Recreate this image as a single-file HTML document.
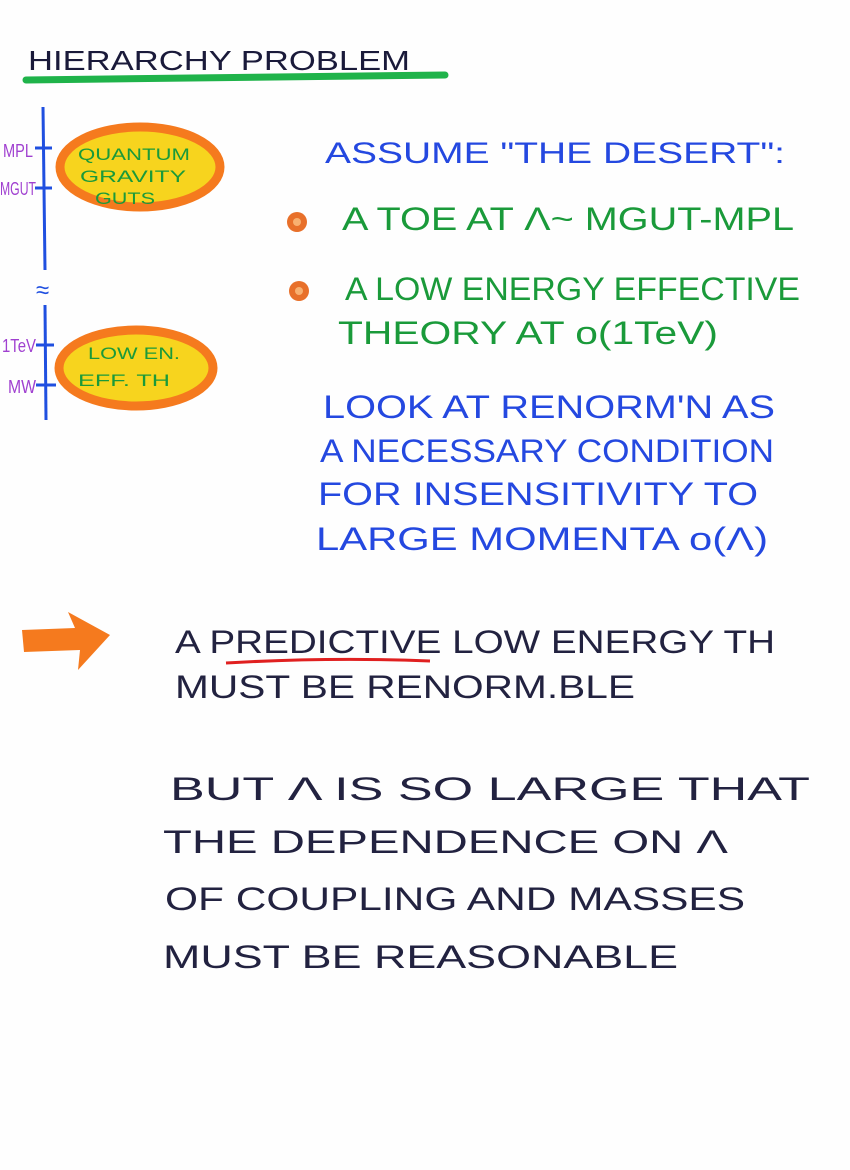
<!DOCTYPE html>
<html><head><meta charset="utf-8"><style>
html,body{margin:0;padding:0;background:#fff}
svg{display:block}
text{font-family:"Liberation Sans",sans-serif;}
</style></head><body>
<svg width="850" height="1170" viewBox="0 0 850 1170" xmlns="http://www.w3.org/2000/svg">
<rect width="850" height="1170" fill="#fefefe"/>
<text x="28" y="70" font-size="28" fill="#1a1a3a" textLength="382" lengthAdjust="spacingAndGlyphs">HIERARCHY PROBLEM</text>
<path d="M26 80 L445 75" stroke="#1fb34a" stroke-width="7" stroke-linecap="round"/>
<g stroke="#1f4fe0" stroke-width="3" fill="none">
<path d="M43 107 L45 270"/><path d="M45 305 L46 420"/>
<path d="M35 148 L52 148"/><path d="M35 188 L52 188"/><path d="M36 345 L54 345"/><path d="M36 385 L56 385"/>
</g>
<text x="36" y="298" font-size="24" fill="#1f4fe0">≈</text>
<g fill="#a040d0" font-size="18">
<text x="3" y="157" textLength="30" lengthAdjust="spacingAndGlyphs">MPL</text>
<text x="0" y="195" textLength="36" lengthAdjust="spacingAndGlyphs">MGUT</text>
<text x="2" y="352" textLength="34" lengthAdjust="spacingAndGlyphs">1TeV</text>
<text x="8" y="393" textLength="28" lengthAdjust="spacingAndGlyphs">MW</text>
</g>
<ellipse cx="140" cy="167" rx="80" ry="40" fill="#f7d41e" stroke="#f57a1e" stroke-width="9"/>
<ellipse cx="136" cy="368" rx="77" ry="38" fill="#f7d41e" stroke="#f57a1e" stroke-width="9"/>
<g fill="#1a9a3a" font-size="17">
<text x="78" y="160" textLength="112" lengthAdjust="spacingAndGlyphs">QUANTUM</text>
<text x="80" y="182" textLength="106" lengthAdjust="spacingAndGlyphs">GRAVITY</text>
<text x="95" y="204" textLength="60" lengthAdjust="spacingAndGlyphs">GUTS</text>
<text x="88" y="359" textLength="92" lengthAdjust="spacingAndGlyphs">LOW EN.</text>
<text x="78" y="386" textLength="92" lengthAdjust="spacingAndGlyphs">EFF. TH</text>
</g>
<text x="325" y="163" font-size="30" fill="#2448e0" textLength="460" lengthAdjust="spacingAndGlyphs">ASSUME "THE DESERT":</text>
<circle cx="297" cy="222" r="10" fill="#e8702a"/><circle cx="297" cy="222" r="4" fill="#f8b070"/>
<circle cx="299" cy="291" r="10" fill="#e8702a"/><circle cx="299" cy="291" r="4" fill="#f8b070"/>
<g fill="#1a9a3a" font-size="32">
<text x="342" y="230" textLength="452" lengthAdjust="spacingAndGlyphs">A TOE AT Λ~ MGUT-MPL</text>
<text x="345" y="300" textLength="455" lengthAdjust="spacingAndGlyphs">A LOW ENERGY EFFECTIVE</text>
<text x="338" y="344" textLength="380" lengthAdjust="spacingAndGlyphs">THEORY AT o(1TeV)</text>
</g>
<g fill="#2448e0" font-size="32">
<text x="323" y="418" textLength="452" lengthAdjust="spacingAndGlyphs">LOOK AT RENORM'N AS</text>
<text x="320" y="462" textLength="454" lengthAdjust="spacingAndGlyphs">A NECESSARY CONDITION</text>
<text x="318" y="505" textLength="440" lengthAdjust="spacingAndGlyphs">FOR INSENSITIVITY TO</text>
<text x="316" y="550" textLength="452" lengthAdjust="spacingAndGlyphs">LARGE MOMENTA o(Λ)</text>
</g>
<path d="M22 630 L75 628 L68 612 L110 635 L78 670 L80 650 L24 652 Z" fill="#f57a1e"/>
<g fill="#222240" font-size="32">
<text x="175" y="653" textLength="600" lengthAdjust="spacingAndGlyphs">A PREDICTIVE LOW ENERGY TH</text>
<text x="175" y="698" textLength="460" lengthAdjust="spacingAndGlyphs">MUST BE RENORM.BLE</text>
<text x="170" y="800" textLength="640" lengthAdjust="spacingAndGlyphs">BUT Λ IS SO LARGE THAT</text>
<text x="163" y="853" textLength="565" lengthAdjust="spacingAndGlyphs">THE DEPENDENCE ON Λ</text>
<text x="165" y="910" textLength="580" lengthAdjust="spacingAndGlyphs">OF COUPLING AND MASSES</text>
<text x="163" y="968" textLength="515" lengthAdjust="spacingAndGlyphs">MUST BE REASONABLE</text>
</g>
<path d="M226 663 Q330 657 430 661" stroke="#e02020" stroke-width="3" fill="none"/>
</svg>
</body></html>
